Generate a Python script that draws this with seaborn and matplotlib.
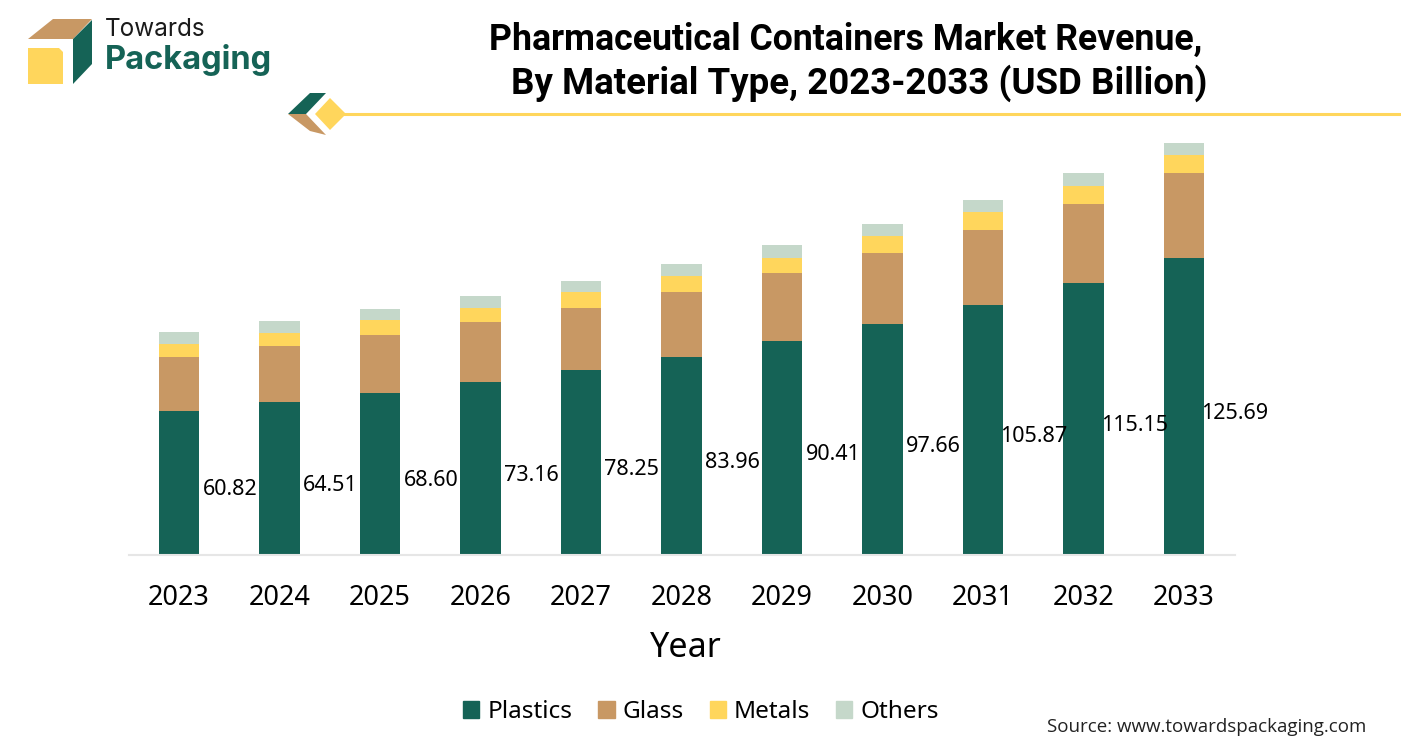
import numpy as np
import pandas as pd
import matplotlib
matplotlib.use("Agg")
import matplotlib.pyplot as plt
from matplotlib.patches import Polygon, Rectangle
from matplotlib.lines import Line2D
import seaborn as sns

years = [2023, 2024, 2025, 2026, 2027, 2028, 2029, 2030, 2031, 2032, 2033]
plastics = [60.82, 64.51, 68.60, 73.16, 78.25, 83.96, 90.41, 97.66, 105.87, 115.15, 125.69]
glass = [22.9, 23.8, 24.6, 25.5, 26.4, 27.2, 28.9, 30.2, 31.9, 33.6, 36.1]
metals = [5.5, 5.5, 6.4, 6.0, 6.8, 6.8, 6.4, 7.2, 7.6, 7.6, 7.6]
others = [5.1, 5.1, 4.7, 5.1, 4.7, 5.1, 5.5, 5.1, 5.1, 5.5, 5.1]
materials = ["Plastics", "Glass", "Metals", "Others"]
colors = ["#156356", "#C89864", "#FFD65C", "#C5D8CA"]
title_line1 = "Pharmaceutical Containers Market Revenue,"
title_line2 = "By Material Type, 2023-2033 (USD Billion)"

W, H = 1401, 751
sns.set_theme(style="white")
plt.rcParams["font.family"] = ["Noto Sans", "DejaVu Sans"]

fig = plt.figure(figsize=(W / 100, H / 100), dpi=100, facecolor="white")
L, R, T, B = 129, 1235, 130.5, 554.5
ax = fig.add_axes([L / W, 1 - B / H, (R - L) / W, (B - T) / H])

df = pd.DataFrame({"Year": years, "Plastics": plastics, "Glass": glass,
                   "Metals": metals, "Others": others})
bottom = np.zeros(len(years))
for m, c in zip(materials, colors):
    sns.barplot(data=df, x="Year", y=m, color=c, width=0.405, saturation=1,
                bottom=bottom, ax=ax, linewidth=0)
    bottom = bottom + df[m].to_numpy()

ax.set_xlim(-0.4975, 10.507)
ax.set_ylim(0, (B - T) / 2.358)
ax.set_yticks([])
ax.set_ylabel("")
for s in ["top", "left", "right"]:
    ax.spines[s].set_visible(False)
ax.spines["bottom"].set_color("#E6E6E6")
ax.spines["bottom"].set_linewidth(1.5)
ax.tick_params(axis="x", length=0, pad=21, labelsize=19.5, labelcolor="black")
ax.set_xlabel("Year", fontsize=24.5, color="black", labelpad=14, x=0.5036)

for i, v in enumerate(plastics):
    ax.annotate(f"{v:.2f}", (i + 0.505, v / 2), xytext=(0, -7), textcoords="offset pixels",
                ha="center", va="center", fontsize=15.5, color="black", zorder=5)

handles = [Rectangle((0, 0), 1, 1, color=c) for c in colors]
fig.legend(handles, materials, loc="center", bbox_to_anchor=(701 / W, 1 - 712 / H), ncol=4,
           frameon=False, fontsize=17.5, handlelength=0.66, handleheight=0.66,
           handletextpad=0.32, columnspacing=1.08, labelcolor="black",
           borderpad=0, borderaxespad=0)

# overlay in pixel coordinates for decoration and header
ov = fig.add_axes([0, 0, 1, 1], zorder=10)
ov.set_xlim(0, W)
ov.set_ylim(H, 0)
ov.axis("off")
ov.patch.set_alpha(0)

ov.add_patch(Polygon([(28, 39), (53, 19), (92, 19), (73, 39)], color=colors[1], lw=0))
ov.add_patch(Polygon([(73, 39), (92, 20), (92, 64), (73, 84)], color=colors[0], lw=0))
ov.add_patch(Polygon([(28, 48), (59, 48), (63, 52), (63, 84), (28, 84)], color=colors[2], lw=0))
ov.text(105, 29, "Towards", fontsize=17.5, family="Inter", color="#1a1a1a", va="center", ha="left")
ov.text(105, 60.5, "Packaging", fontsize=23.5, family="Inter", fontweight="bold",
        color=colors[0], va="center", ha="left")

ov.add_patch(Polygon([(288, 114), (310, 93), (326, 93), (306, 114)], color=colors[0], lw=0))
ov.add_patch(Polygon([(288, 114), (306, 114), (326, 135), (310, 131)], color=colors[1], lw=0))
ov.add_patch(Polygon([(315, 114), (330, 98), (346, 114), (330, 130)], color=colors[2], lw=0))
ov.add_line(Line2D([340, 1401], [114, 114], color=colors[2], lw=2.2))

ov.text(845.5, 40, title_line1, fontsize=25.7, family="Roboto", fontweight="bold", color="black",
        ha="center", va="center")
ov.text(859.5, 83, title_line2, fontsize=26.4, family="Roboto", fontweight="bold", color="black",
        ha="center", va="center")
ov.text(1206.5, 727.5, "Source: www.towardspackaging.com", fontsize=13.5, family="Open Sans",
        color="#222222", ha="center", va="center")

fig.savefig("out.png", dpi=100, facecolor="white")
